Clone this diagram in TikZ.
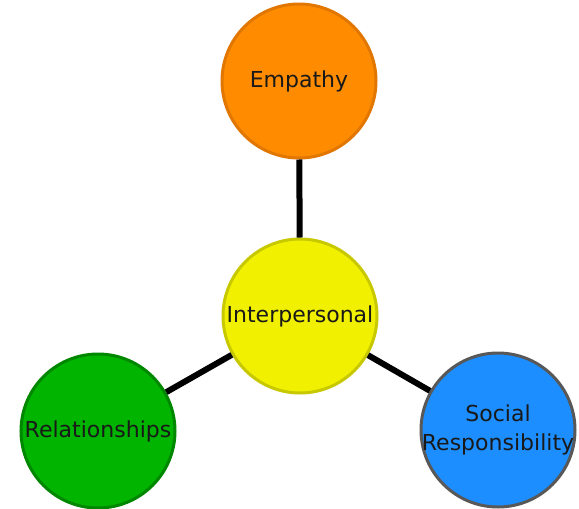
\documentclass[tikz,border=0pt]{standalone}
\usepackage{fontspec}
\setmainfont{DejaVu Sans}
\usetikzlibrary{positioning}

\definecolor{empOrange}{RGB}{255,140,0}
\definecolor{empEdge}{RGB}{225,118,0}
\definecolor{intYellow}{RGB}{240,240,0}
\definecolor{intEdge}{RGB}{200,200,0}
\definecolor{relGreen}{RGB}{0,180,0}
\definecolor{relEdge}{RGB}{0,135,0}
\definecolor{socBlue}{RGB}{28,142,255}
\definecolor{socEdge}{RGB}{88,88,88}

% text that may run past the circle without growing it
\newcommand{\nowidth}[1]{\makebox[0pt]{#1}}

\begin{document}
\begin{tikzpicture}[
        x=1pt, y=-1pt,
        skill/.style={circle, line width=3pt, minimum size=154pt, inner sep=0pt, align=center,
            font=\fontsize{22}{29}\selectfont, text=black!90},
        link/.style={-, line width=6pt, draw=black}
    ]
        \useasboundingbox (0,0) rectangle (579,509);

        % --- SKILLS ---
        \node[skill, fill=intYellow, draw=intEdge] (interp) at (300,316) {Interpersonal};
        \node[skill, fill=empOrange, draw=empEdge] (empathy) at (299,81) {Empathy};
        \node[skill, fill=relGreen, draw=relEdge] (relation) at (98,431) {Relationships};
        \node[skill, fill=socBlue, draw=socEdge] (social) at (498,430) {\nowidth{Social}\\\nowidth{Responsibility}};

        % --- CONNECTIONS ---
        \draw[link] (interp) -- (empathy);
        \draw[link] (interp) -- (relation);
        \draw[link] (interp) -- (social);

    \end{tikzpicture}
\end{document}
